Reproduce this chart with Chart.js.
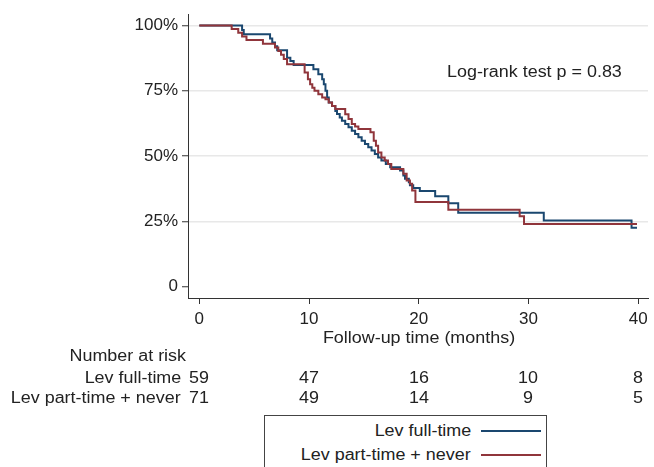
<!DOCTYPE html>
<html>
<head>
<meta charset="utf-8">
<script src="https://cdn.jsdelivr.net/npm/chart.js@4"></script>
<style>
  html, body { margin: 0; padding: 0; background: #fff; }
  #wrap { position: relative; width: 654px; height: 467px; overflow: hidden; font-family: 'Liberation Sans', Arial, sans-serif; color: #222; }
  #c { position: absolute; left: 0; top: 0; }
  .t { position: absolute; font-size: 16px; line-height: 20px; white-space: nowrap; }
  #legend { position: absolute; left: 264px; top: 415px; width: 283px; height: 70px; border: 1px solid #444; box-sizing: border-box; background: #fff; }
</style>
</head>
<body>
<div id="wrap">
  <canvas id="c" width="654" height="467"></canvas>
  <div id="legend"></div>
</div>
<script>
// ---- Data ----
const seriesNames = ['Lev full-time', 'Lev part-time + never'];
const seriesColors = ['#1a476f', '#90353b'];

const fullTimeMonths = [0, 3.9, 4.05, 6.45, 6.65, 6.9, 7.1, 8.0, 8.3, 8.6, 10.4, 10.85, 11.2, 11.35, 11.5, 11.65, 11.8, 12.1, 12.4, 12.55, 12.8, 13.0, 13.3, 13.6, 13.9, 14.2, 14.5, 14.8, 15.1, 15.4, 15.7, 16.0, 16.3, 16.6, 17.0, 17.4, 18.3, 18.6, 18.75, 19.1, 19.2, 19.5, 20.1, 21.5, 22.7, 23.6, 31.4, 39.4, 39.9];
const fullTimeSurv   = [1, 0.983, 0.966, 0.95, 0.935, 0.92, 0.905, 0.876, 0.864, 0.849, 0.832, 0.813, 0.794, 0.775, 0.75, 0.724, 0.705, 0.692, 0.673, 0.661, 0.648, 0.635, 0.623, 0.61, 0.597, 0.585, 0.572, 0.559, 0.546, 0.534, 0.521, 0.508, 0.495, 0.483, 0.47, 0.457, 0.445, 0.426, 0.413, 0.40, 0.388, 0.378, 0.366, 0.346, 0.32, 0.283, 0.254, 0.226, 0.226];

const partTimeMonths = [0, 2.95, 3.55, 3.9, 4.3, 5.8, 6.9, 7.2, 7.45, 7.7, 8.0, 9.6, 9.9, 10.1, 10.3, 10.5, 10.85, 11.2, 11.5, 11.8, 12.1, 12.4, 13.3, 13.6, 13.9, 14.2, 14.5, 15.6, 15.9, 16.1, 16.3, 16.6, 16.9, 17.2, 17.5, 18.6, 18.9, 19.2, 19.4, 19.7, 22.7, 29.2, 29.6, 39.9];
const partTimeSurv   = [1, 0.986, 0.972, 0.958, 0.944, 0.93, 0.916, 0.902, 0.888, 0.872, 0.851, 0.82, 0.794, 0.775, 0.762, 0.75, 0.737, 0.724, 0.718, 0.705, 0.692, 0.68, 0.66, 0.642, 0.623, 0.613, 0.604, 0.591, 0.559, 0.54, 0.514, 0.495, 0.483, 0.47, 0.451, 0.432, 0.407, 0.394, 0.368, 0.324, 0.295, 0.27, 0.24, 0.24];

const xTicks = [0, 10, 20, 30, 40];
const yTicks = [0, 0.25, 0.5, 0.75, 1];
const riskTimes = [0, 10, 20, 30, 40];
const riskFullTime = [59, 47, 16, 10, 8];
const riskPartTime = [71, 49, 14, 9, 5];
const annotationText = 'Log-rank test p = 0.83';
const xTitle = 'Follow-up time (months)';

// ---- Chart ----
const FONT = "'Liberation Sans', Arial, sans-serif";
const SX = 1.12;
const toPts = (xs, ys) => xs.map((x, i) => ({ x: x, y: ys[i] }));

const wrap = document.getElementById('wrap');
function addText(txt, left, top, align) {
  const d = document.createElement('div');
  d.className = 't';
  d.textContent = txt;
  d.style.top = (top - 10) + 'px';
  if (align === 'right') {
    d.style.right = (654 - left) + 'px';
    d.style.transformOrigin = 'right center';
    d.style.transform = 'scaleX(' + SX + ')';
  } else if (align === 'center') {
    d.style.left = left + 'px';
    d.style.transform = 'translateX(-50%) scaleX(' + SX + ')';
  } else {
    d.style.left = left + 'px';
    d.style.transformOrigin = 'left center';
    d.style.transform = 'scaleX(' + SX + ')';
  }
  wrap.appendChild(d);
  return d;
}

let overlayDone = false;
const overlayPlugin = {
  id: 'overlay',
  afterRender(chart) {
    if (overlayDone) return;
    overlayDone = true;
    const xs = chart.scales.x;
    const axisBottom = chart.chartArea.bottom;
    addText(xTitle, xs.getPixelForValue(20), axisBottom + 40, 'center');
    addText(annotationText, 447, 72, 'left');
    addText('Number at risk', 186, 356, 'right');
    addText(seriesNames[0], 181, 378, 'right');
    addText(seriesNames[1], 181, 398, 'right');
    riskTimes.forEach((t, i) => {
      const px = xs.getPixelForValue(t);
      addText(String(riskFullTime[i]), px, 378, 'center');
      addText(String(riskPartTime[i]), px, 398, 'center');
    });
    [431, 455].forEach((y, i) => {
      addText(seriesNames[i], 471, y, 'right');
      const ln = document.createElement('div');
      ln.style.position = 'absolute';
      ln.style.left = '481px';
      ln.style.width = '60px';
      ln.style.top = (y - 1) + 'px';
      ln.style.height = '2px';
      ln.style.background = seriesColors[i];
      wrap.appendChild(ln);
    });
  }
};

new Chart(document.getElementById('c'), {
  type: 'line',
  data: {
    datasets: [
      { label: seriesNames[0], data: toPts(fullTimeMonths, fullTimeSurv), borderColor: seriesColors[0], borderWidth: 2, pointRadius: 0, stepped: true, fill: false, order: 1 },
      { label: seriesNames[1], data: toPts(partTimeMonths, partTimeSurv), borderColor: seriesColors[1], borderWidth: 2, pointRadius: 0, stepped: true, fill: false, order: 0 }
    ]
  },
  options: {
    responsive: false,
    animation: false,
    devicePixelRatio: 1,
    layout: { padding: { top: 13, right: 6, left: 0, bottom: 0 } },
    plugins: { legend: { display: false }, tooltip: { enabled: false } },
    scales: {
      x: {
        type: 'linear', min: -1.03, max: 40.9,
        afterBuildTicks: s => { s.ticks = xTicks.map(v => ({ value: v })); },
        afterFit: s => { s.height = 169; },
        ticks: { color: '#222', font: { size: 17, family: FONT }, padding: 5, maxRotation: 0, autoSkip: false },
        grid: { drawOnChartArea: false, drawTicks: true, tickLength: 6, tickColor: '#333', tickWidth: 1 },
        border: { color: '#333', width: 1 }
      },
      y: {
        min: -0.043, max: 1.043,
        afterBuildTicks: s => { s.ticks = yTicks.map(v => ({ value: v })); },
        afterFit: s => { s.width = 188; },
        ticks: { color: '#222', font: { size: 17, family: FONT }, padding: 4, autoSkip: false,
          callback: v => v === 0 ? '0' : Math.round(v * 100) + '%' },
        grid: { color: c => (c.tick && c.tick.value === 0) ? 'rgba(0,0,0,0)' : '#e8e8e8', lineWidth: 1.5, drawTicks: true, tickLength: 6, tickColor: '#333', tickWidth: 1 },
        border: { color: '#333', width: 1 }
      }
    }
  },
  plugins: [overlayPlugin]
});
</script>
</body>
</html>
